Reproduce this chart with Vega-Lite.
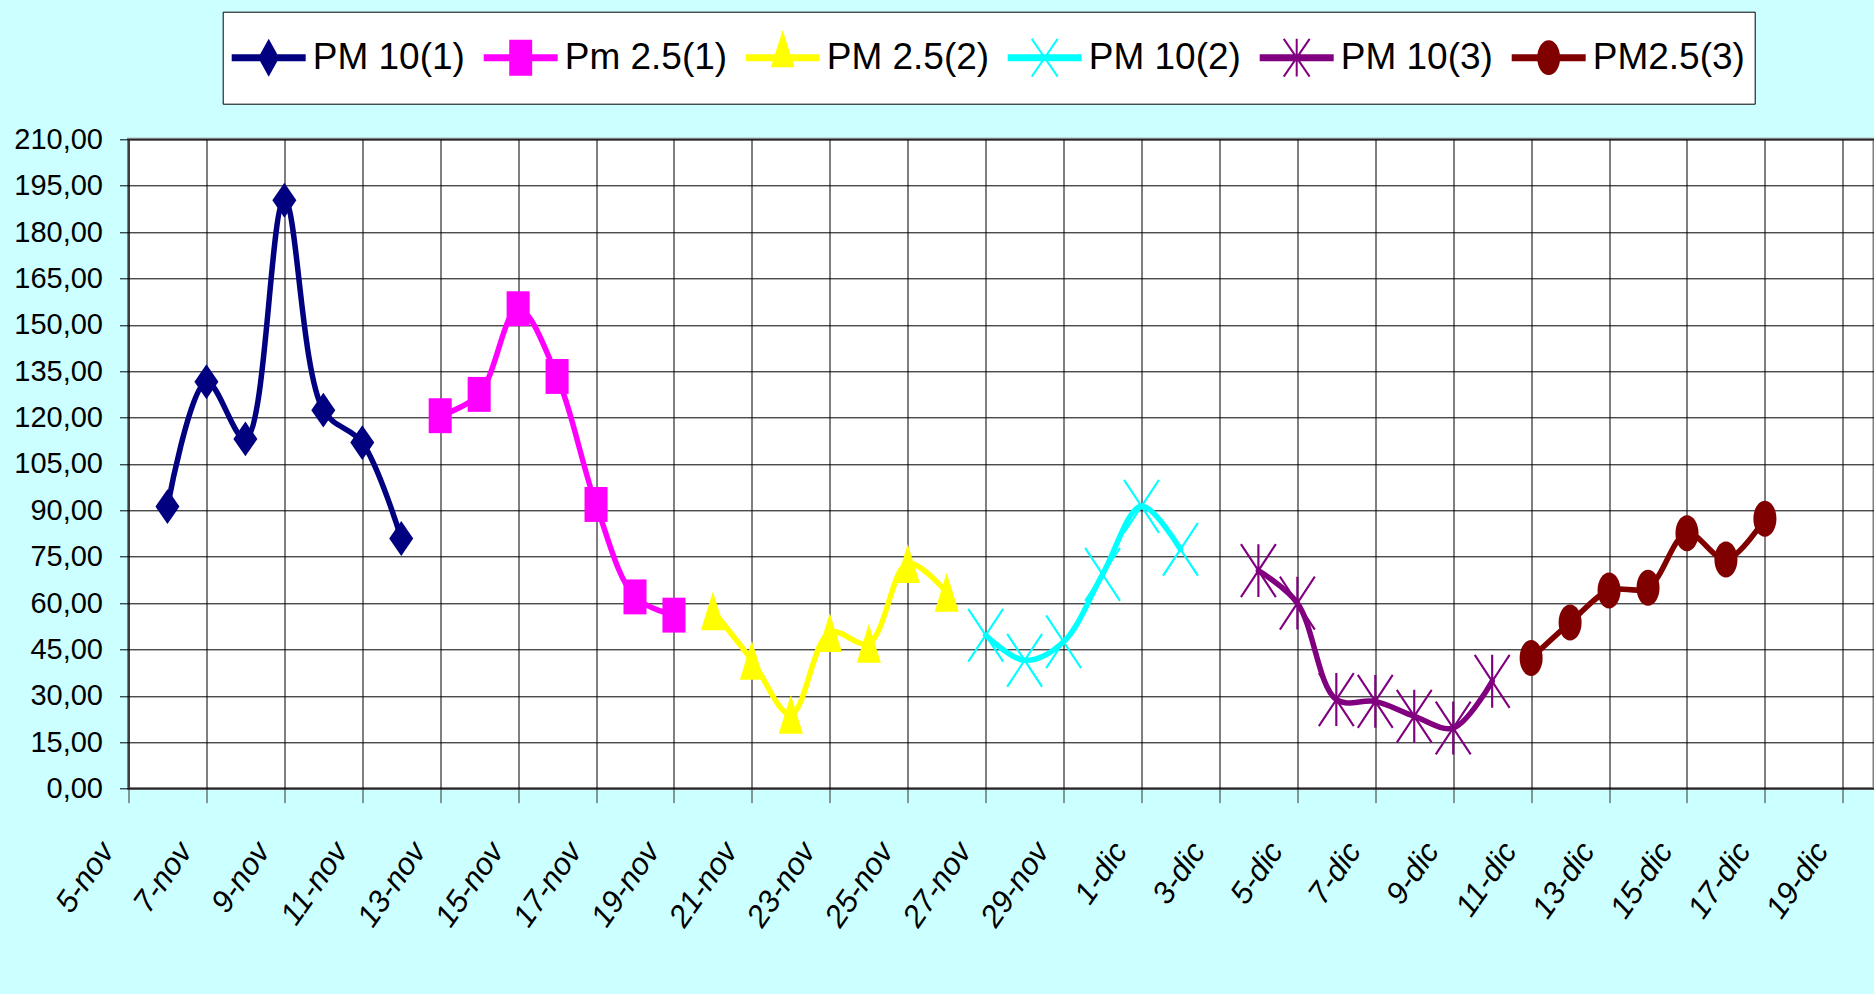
{
  "$schema": "https://vega.github.io/schema/vega-lite/v6.json",
  "autosize": {"type": "none"},
  "padding": {"left": 128.5, "top": 139.3, "right": 0, "bottom": 205.4},
  "width": 1745.5,
  "height": 649.3,
  "background": "#CCFFFF",
  "config": {
    "view": {"stroke": "#808080", "strokeWidth": 3, "fill": "#FFFFFF"}
  },
  "data": {
    "values": [
      {"date": "2020-11-06", "series": "PM 10(1)", "value": 91.2},
      {"date": "2020-11-07", "series": "PM 10(1)", "value": 131.6},
      {"date": "2020-11-08", "series": "PM 10(1)", "value": 113.1},
      {"date": "2020-11-09", "series": "PM 10(1)", "value": 190.3},
      {"date": "2020-11-10", "series": "PM 10(1)", "value": 122.4},
      {"date": "2020-11-11", "series": "PM 10(1)", "value": 111.9},
      {"date": "2020-11-12", "series": "PM 10(1)", "value": 80.9},
      {"date": "2020-11-13", "series": "Pm 2.5(1)", "value": 120.6},
      {"date": "2020-11-14", "series": "Pm 2.5(1)", "value": 127.5},
      {"date": "2020-11-15", "series": "Pm 2.5(1)", "value": 155.2},
      {"date": "2020-11-16", "series": "Pm 2.5(1)", "value": 133.3},
      {"date": "2020-11-17", "series": "Pm 2.5(1)", "value": 91.9},
      {"date": "2020-11-18", "series": "Pm 2.5(1)", "value": 62.0},
      {"date": "2020-11-19", "series": "Pm 2.5(1)", "value": 56.1},
      {"date": "2020-11-20", "series": "PM 2.5(2)", "value": 57.5},
      {"date": "2020-11-21", "series": "PM 2.5(2)", "value": 41.5},
      {"date": "2020-11-22", "series": "PM 2.5(2)", "value": 24.0},
      {"date": "2020-11-23", "series": "PM 2.5(2)", "value": 50.5},
      {"date": "2020-11-24", "series": "PM 2.5(2)", "value": 47.0},
      {"date": "2020-11-25", "series": "PM 2.5(2)", "value": 72.8},
      {"date": "2020-11-26", "series": "PM 2.5(2)", "value": 63.5},
      {"date": "2020-11-27", "series": "PM 10(2)", "value": 49.6},
      {"date": "2020-11-28", "series": "PM 10(2)", "value": 41.5},
      {"date": "2020-11-29", "series": "PM 10(2)", "value": 47.5},
      {"date": "2020-11-30", "series": "PM 10(2)", "value": 69.3},
      {"date": "2020-12-01", "series": "PM 10(2)", "value": 91.3},
      {"date": "2020-12-02", "series": "PM 10(2)", "value": 77.4},
      {"date": "2020-12-04", "series": "PM 10(3)", "value": 70.5},
      {"date": "2020-12-05", "series": "PM 10(3)", "value": 60.0},
      {"date": "2020-12-06", "series": "PM 10(3)", "value": 28.8},
      {"date": "2020-12-07", "series": "PM 10(3)", "value": 28.2},
      {"date": "2020-12-08", "series": "PM 10(3)", "value": 23.4},
      {"date": "2020-12-09", "series": "PM 10(3)", "value": 19.6},
      {"date": "2020-12-10", "series": "PM 10(3)", "value": 34.7},
      {"date": "2020-12-11", "series": "PM2.5(3)", "value": 42.2},
      {"date": "2020-12-12", "series": "PM2.5(3)", "value": 53.7},
      {"date": "2020-12-13", "series": "PM2.5(3)", "value": 64.1},
      {"date": "2020-12-14", "series": "PM2.5(3)", "value": 65.0},
      {"date": "2020-12-15", "series": "PM2.5(3)", "value": 82.6},
      {"date": "2020-12-16", "series": "PM2.5(3)", "value": 74.1},
      {"date": "2020-12-17", "series": "PM2.5(3)", "value": 87.3}
    ]
  },
  "encoding": {
    "x": {
      "field": "date",
      "type": "temporal",
      "scale": {
        "type": "utc",
        "domain": [
          {"year": 2020, "month": 11, "date": 5, "utc": true},
          {"year": 2020, "month": 12, "date": 19, "hours": 19, "minutes": 12, "utc": true}
        ]
      },
      "axis": {
        "title": null,
        "values": [
          {"year": 2020, "month": 11, "date": 5, "utc": true},
          {"year": 2020, "month": 11, "date": 7, "utc": true},
          {"year": 2020, "month": 11, "date": 9, "utc": true},
          {"year": 2020, "month": 11, "date": 11, "utc": true},
          {"year": 2020, "month": 11, "date": 13, "utc": true},
          {"year": 2020, "month": 11, "date": 15, "utc": true},
          {"year": 2020, "month": 11, "date": 17, "utc": true},
          {"year": 2020, "month": 11, "date": 19, "utc": true},
          {"year": 2020, "month": 11, "date": 21, "utc": true},
          {"year": 2020, "month": 11, "date": 23, "utc": true},
          {"year": 2020, "month": 11, "date": 25, "utc": true},
          {"year": 2020, "month": 11, "date": 27, "utc": true},
          {"year": 2020, "month": 11, "date": 29, "utc": true},
          {"year": 2020, "month": 12, "date": 1, "utc": true},
          {"year": 2020, "month": 12, "date": 3, "utc": true},
          {"year": 2020, "month": 12, "date": 5, "utc": true},
          {"year": 2020, "month": 12, "date": 7, "utc": true},
          {"year": 2020, "month": 12, "date": 9, "utc": true},
          {"year": 2020, "month": 12, "date": 11, "utc": true},
          {"year": 2020, "month": 12, "date": 13, "utc": true},
          {"year": 2020, "month": 12, "date": 15, "utc": true},
          {"year": 2020, "month": 12, "date": 17, "utc": true},
          {"year": 2020, "month": 12, "date": 19, "utc": true}
        ],
        "labelExpr": "utcdate(datum.value) + '-' + (utcmonth(datum.value) == 10 ? 'nov' : 'dic')",
        "labelAngle": -55,
        "labelAlign": "right",
        "labelBaseline": "middle",
        "labelFont": "Liberation Sans, Arial",
        "labelFontStyle": "italic",
        "labelFontSize": 31,
        "labelColor": "#000000",
        "labelPadding": 43,
        "labelOffset": -21,
        "labelOverlap": false,
        "labelBound": false,
        "labelFlush": false,
        "tickSize": 14,
        "tickColor": "#333333",
        "tickWidth": 1,
        "grid": true,
        "gridColor": "#000000",
        "gridWidth": 1,
        "gridOpacity": 1,
        "domain": false
      }
    },
    "y": {
      "field": "value",
      "type": "quantitative",
      "scale": {"domain": [0, 210], "nice": false, "zero": true},
      "axis": {
        "title": null,
        "values": [0, 15, 30, 45, 60, 75, 90, 105, 120, 135, 150, 165, 180, 195, 210],
        "labelExpr": "replace(format(datum.value, '.2f'), '.', ',')",
        "labelFont": "Liberation Sans, Arial",
        "labelFontSize": 29,
        "labelColor": "#000000",
        "labelPadding": 17,
        "labelBaseline": "middle",
        "labelOverlap": false,
        "labelFlush": false,
        "tickSize": 9,
        "tickColor": "#000000",
        "tickWidth": 1,
        "grid": true,
        "gridColor": "#000000",
        "gridWidth": 1,
        "gridOpacity": 1,
        "domain": false
      }
    }
  },
  "layer": [
    {
      "mark": {"type": "line", "interpolate": "catmull-rom", "strokeWidth": 5.5, "strokeJoin": "round", "strokeCap": "round"},
      "encoding": {
        "color": {
          "field": "series",
          "type": "nominal",
          "scale": {
            "domain": ["PM 10(1)", "Pm 2.5(1)", "PM 2.5(2)", "PM 10(2)", "PM 10(3)", "PM2.5(3)"],
            "range": ["#000080", "#FF00FF", "#FFFF00", "#00FFFF", "#800080", "#800000"]
          },
          "legend": null
        }
      }
    },
    {
      "mark": {"type": "point", "filled": true, "size": 1296, "opacity": 1, "strokeWidth": 0},
      "encoding": {
        "color": {
          "field": "series",
          "type": "nominal",
          "scale": {
            "domain": ["PM 10(1)", "Pm 2.5(1)", "PM 2.5(2)", "PM 10(2)", "PM 10(3)", "PM2.5(3)"],
            "range": ["#000080", "#FF00FF", "#FFFF00", "#00FFFF", "#800080", "#800000"]
          },
          "legend": null
        },
        "shape": {
          "field": "series",
          "type": "nominal",
          "scale": {
            "domain": ["PM 10(1)", "Pm 2.5(1)", "PM 2.5(2)", "PM 10(2)", "PM 10(3)", "PM2.5(3)"],
            "range": [
              "M0,-0.97L0.667,0L0,0.97L-0.667,0Z",
              "M-0.64,-0.97L0.64,-0.97L0.64,0.97L-0.64,0.97Z",
              "M0,-1.08L0.67,1.08L-0.67,1.08Z",
              "M-0.922,-1.505L1.018,1.435L0.922,1.505L-1.018,-1.435Z M1.018,-1.435L-0.922,1.505L-1.018,1.435L0.922,-1.505Z",
              "M-0.922,-1.505L1.018,1.435L0.922,1.505L-1.018,-1.435Z M1.018,-1.435L-0.922,1.505L-1.018,1.435L0.922,-1.505Z M-0.06,-1.47L0.06,-1.47L0.06,1.47L-0.06,1.47Z",
              "M-0.64,0A0.64,1 0 1,1 0.64,0A0.64,1 0 1,1 -0.64,0Z"
            ]
          },
          "legend": null
        }
      }
    },
    {
      "mark": {"type": "point", "filled": true, "size": 1296, "opacity": 0, "strokeWidth": 0},
      "encoding": {
        "color": {
          "field": "series",
          "type": "nominal",
          "scale": {
            "domain": ["PM 10(1)", "Pm 2.5(1)", "PM 2.5(2)", "PM 10(2)", "PM 10(3)", "PM2.5(3)"],
            "range": ["#000080", "#FF00FF", "#FFFF00", "#00FFFF", "#800080", "#800000"]
          },
          "legend": {
            "orient": "none", "legendX": 94.2, "legendY": -127.6,
            "direction": "horizontal", "columns": 6, "title": null,
            "symbolSize": 5476, "symbolOpacity": 1, "symbolStrokeWidth": 0,
            "labelFont": "Liberation Sans, Arial",
            "labelFontSize": 37, "labelColor": "#000000", "labelOffset": 7, "labelLimit": 500,
            "columnPadding": 18, "padding": 9,
            "fillColor": "#FFFFFF", "strokeColor": "#000000"
          }
        },
        "shape": {
          "field": "series",
          "type": "nominal",
          "scale": {
            "domain": ["PM 10(1)", "Pm 2.5(1)", "PM 2.5(2)", "PM 10(2)", "PM 10(3)", "PM2.5(3)"],
            "range": [
              "M0,-1L0,1 M-1,-0.095L1,-0.095L1,0.095L-1,0.095Z M0,-0.514L0.284,0L0,0.514L-0.284,0Z",
              "M0,-1L0,1 M-1,-0.095L1,-0.095L1,0.095L-1,0.095Z M-0.31,-0.486L0.31,-0.486L0.31,0.486L-0.31,0.486Z",
              "M0,-1L0,1 M-1,-0.095L1,-0.095L1,0.095L-1,0.095Z M0,-0.75L0.32,0.26L-0.32,0.26Z",
              "M0,-1L0,1 M-1,-0.095L1,-0.095L1,0.095L-1,0.095Z M-0.328,-0.525L0.372,0.495L0.328,0.525L-0.372,-0.495Z M0.372,-0.495L-0.328,0.525L-0.372,0.495L0.328,-0.525Z",
              "M0,-1L0,1 M-1,-0.095L1,-0.095L1,0.095L-1,0.095Z M-0.328,-0.525L0.372,0.495L0.328,0.525L-0.372,-0.495Z M0.372,-0.495L-0.328,0.525L-0.372,0.495L0.328,-0.525Z M-0.027,-0.51L0.027,-0.51L0.027,0.51L-0.027,0.51Z",
              "M0,-1L0,1 M-1,-0.095L1,-0.095L1,0.095L-1,0.095Z M-0.31,0A0.31,0.47 0 1,1 0.31,0A0.31,0.47 0 1,1 -0.31,0Z"
            ]
          },
          "legend": {
            "orient": "none", "legendX": 94.2, "legendY": -127.6,
            "direction": "horizontal", "columns": 6, "title": null,
            "symbolSize": 5476, "symbolOpacity": 1, "symbolStrokeWidth": 0,
            "labelFont": "Liberation Sans, Arial",
            "labelFontSize": 37, "labelColor": "#000000", "labelOffset": 7, "labelLimit": 500,
            "columnPadding": 18, "padding": 9,
            "fillColor": "#FFFFFF", "strokeColor": "#000000"
          }
        }
      }
    }
  ],
  "resolve": {
    "scale": {"color": "independent", "shape": "independent"},
    "legend": {"color": "independent", "shape": "independent"}
  }
}
